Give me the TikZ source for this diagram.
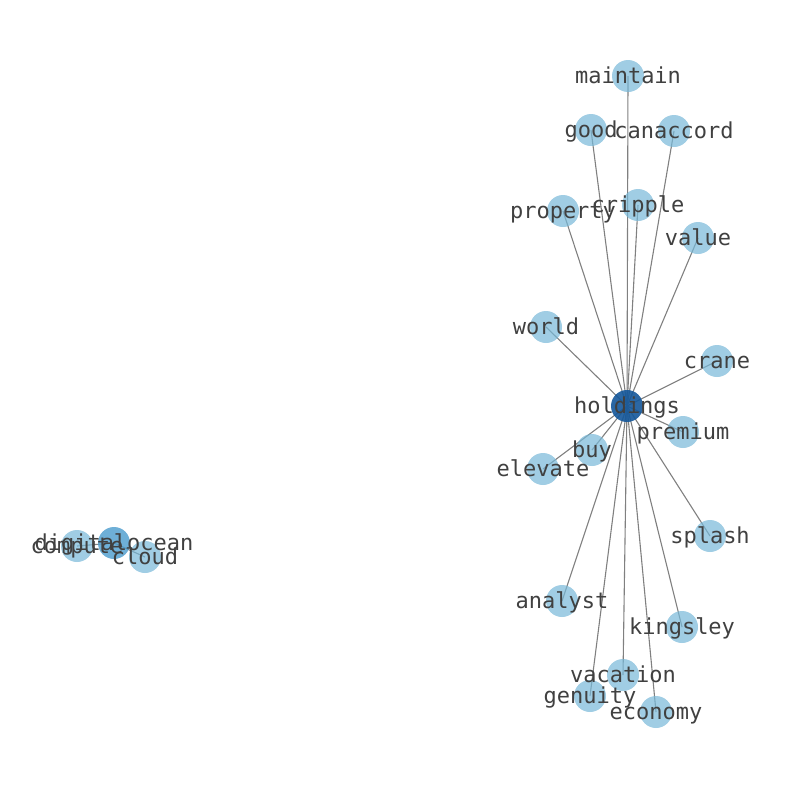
\documentclass[tikz,border=0pt]{standalone}
\usepackage{fontspec}
\setmonofont{DejaVu Sans Mono}
\definecolor{leaf}{RGB}{119,184,216}
\definecolor{hubc}{RGB}{20,87,154}
\definecolor{midc}{RGB}{74,155,205}
\definecolor{labc}{RGB}{64,64,64}
\definecolor{edgec}{RGB}{128,128,128}
\begin{document}
\begin{tikzpicture}[x=1pt,y=-1pt,
  dot/.style={circle,minimum size=32pt,inner sep=0pt,draw=none,fill=leaf,fill opacity=0.7},
  hubdot/.style={dot,fill=hubc,fill opacity=0.9},
  middot/.style={dot,fill=midc,fill opacity=0.8},
  lab/.style={font=\ttfamily\fontsize{22}{22}\selectfont,text=labc,inner sep=0pt,text height=16.7pt,text depth=5.1pt,yshift=-2pt},
  link/.style={draw=edgec,line width=1.1pt}]
\useasboundingbox (0,0) rectangle (794,790);
% node positions
\coordinate (holdings) at (627,406);
\coordinate (maintain) at (628,76);
\coordinate (good) at (591,130);
\coordinate (canaccord) at (674,131);
\coordinate (property) at (563,211);
\coordinate (cripple) at (638,205);
\coordinate (value) at (698,238);
\coordinate (world) at (546,327);
\coordinate (crane) at (717,361);
\coordinate (premium) at (683,432);
\coordinate (buy) at (592,450);
\coordinate (elevate) at (543,469);
\coordinate (splash) at (710,536);
\coordinate (analyst) at (562,601);
\coordinate (kingsley) at (682,627);
\coordinate (vacation) at (623,675);
\coordinate (genuity) at (590,696);
\coordinate (economy) at (656,712);
\coordinate (digitalocean) at (114,543);
\coordinate (compute) at (77,546);
\coordinate (cloud) at (145,557);
% edges
\foreach \n in {maintain,good,canaccord,property,cripple,value,world,crane,premium,buy,elevate,splash,analyst,kingsley,vacation,genuity,economy}
  \draw[link] (holdings) -- (\n);
\draw[link] (digitalocean) -- (compute);
\draw[link] (digitalocean) -- (cloud);
% dots
\foreach \n in {maintain,good,canaccord,property,cripple,value,world,crane,premium,buy,elevate,splash,analyst,kingsley,vacation,genuity,economy,compute,cloud}
  \node[dot] (d-\n) at (\n) {};
\node[hubdot] (d-holdings) at (holdings) {};
\node[middot] (d-digitalocean) at (digitalocean) {};
% labels
\foreach \n in {holdings,maintain,good,canaccord,property,cripple,value,world,crane,premium,buy,elevate,splash,analyst,kingsley,vacation,genuity,economy,digitalocean,compute,cloud}
  \node[lab] (l-\n) at (\n) {\n};
\end{tikzpicture}
\end{document}
